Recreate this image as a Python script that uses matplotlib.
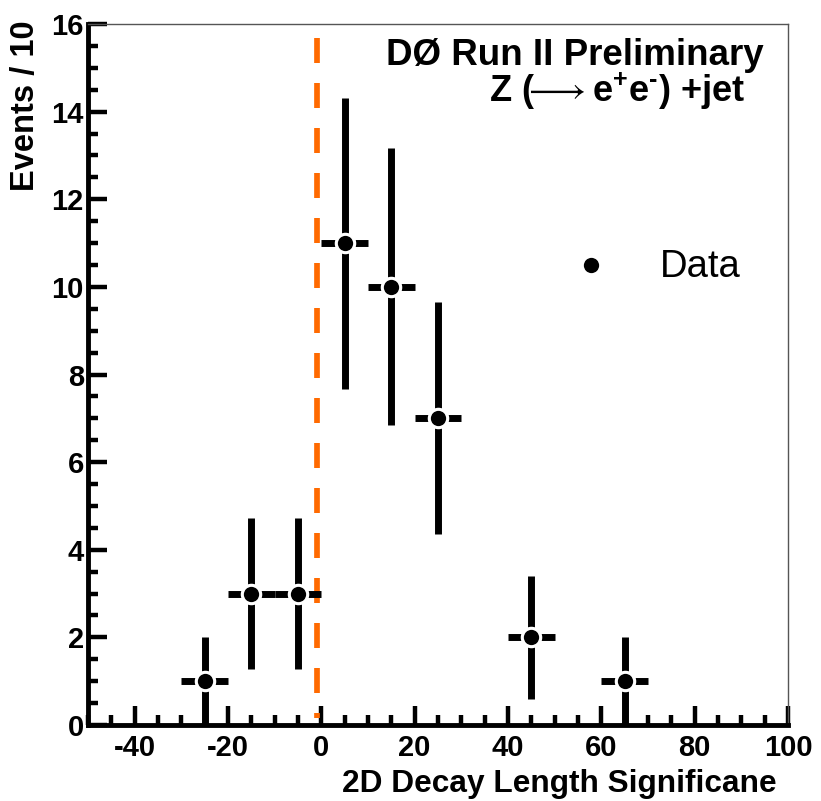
import matplotlib
matplotlib.use("Agg")
import matplotlib.pyplot as plt
from matplotlib.ticker import MultipleLocator

plt.rcParams['font.family'] = ['Liberation Sans', 'DejaVu Sans']
plt.rcParams['mathtext.fontset'] = 'custom'
plt.rcParams['mathtext.rm'] = 'Liberation Sans:bold'
plt.rcParams['mathtext.bf'] = 'Liberation Sans:bold'
plt.rcParams['mathtext.it'] = 'Liberation Sans:bold'
plt.rcParams['mathtext.sf'] = 'Liberation Sans:bold'
plt.rcParams['mathtext.fallback'] = 'stixsans'
plt.rcParams['lines.scale_dashes'] = False

# Data
bin_centers = [-25, -15, -5, 5, 15, 25, 45, 65]
counts = [1, 3, 3, 11, 10, 7, 2, 1]
y_errors = [1.0, 1.73, 1.73, 3.32, 3.16, 2.65, 1.41, 1.0]
x_half_width = [5, 5, 5, 5, 5, 5, 5, 5]
cut_position = -0.9
cut_top = 15.68
x_ticks = [-40, -20, 0, 20, 40, 60, 80, 100]
y_ticks = [0, 2, 4, 6, 8, 10, 12, 14, 16]

W, H = 821, 801
fig = plt.figure(figsize=(W / 100, H / 100), dpi=100)
ax = fig.add_axes([88 / W, 1 - 725 / H, 700 / W, 701 / H])
ax.set_xlim(-50, 100)
ax.set_ylim(0, 16)

# cut line
ax.plot([cut_position, cut_position], [cut_top, 0.15], color='#ff6a00', lw=4.1,
        dashes=(18, 14.4), solid_capstyle='butt', dash_capstyle='butt', zorder=2)

# error bars
ax.errorbar(bin_centers, counts, yerr=y_errors, xerr=x_half_width, fmt='none',
            ecolor='black', elinewidth=5, capsize=0, zorder=3, clip_on=False)
# marker with white halo
ax.plot(bin_centers, counts, 'o', color='white', markersize=15.5, mew=0, zorder=4)
ax.plot(bin_centers, counts, 'o', color='black', markersize=11, mew=0, zorder=5)

# spines
for s in ['left', 'bottom']:
    ax.spines[s].set_linewidth(3.5)
    ax.spines[s].set_color('black')
for s in ['top', 'right']:
    ax.spines[s].set_linewidth(1.0)
    ax.spines[s].set_color('#555555')

ax.set_xticks(x_ticks)
ax.set_yticks(y_ticks)
ax.xaxis.set_minor_locator(MultipleLocator(5))
ax.yaxis.set_minor_locator(MultipleLocator(0.5))
ax.tick_params(which='major', direction='in', length=14, width=3.2, color='black')
ax.tick_params(which='minor', direction='in', length=7, width=3.2, color='black')
ax.tick_params(axis='x', which='major', pad=6.5, labelsize=21)
ax.tick_params(axis='y', which='major', pad=3, labelsize=21)
ax.set_xticklabels([str(t) for t in x_ticks], fontweight='bold')
ax.set_yticklabels([str(t) for t in y_ticks], fontweight='bold')

# axis labels
fig.text(26 / W, 1 - 20 / H, 'Events / 10', rotation=90, ha='center', va='top',
         fontsize=23.5, fontweight='bold')
fig.text(777 / W, 1 - 792 / H, '2D Decay Length Significane', ha='right',
         va='baseline', fontsize=22.8, fontweight='bold')

# titles
fig.text(764 / W, 1 - 65 / H, 'DØ Run II Preliminary', ha='right', va='baseline',
         fontsize=26.5, fontweight='bold')
line2 = r'Z ($\!\!\longrightarrow$e$^{+}$e$^{MINUS}$) +jet'.replace('MINUS', '\u2010')
fig.text(745 / W, 1 - 102 / H, line2,
         ha='right', va='baseline', fontsize=26, fontweight='bold')

# legend
ax.plot([(591 - 88) / 700], [(725 - 265) / 701], 'o', color='black', markersize=11,
        mew=0, transform=ax.transAxes, clip_on=False)
ax.text((660 - 88) / 700, (725 - 277) / 701, 'Data', transform=ax.transAxes,
        ha='left', va='baseline', fontsize=27.5)

fig.savefig('out.png', dpi=100)
